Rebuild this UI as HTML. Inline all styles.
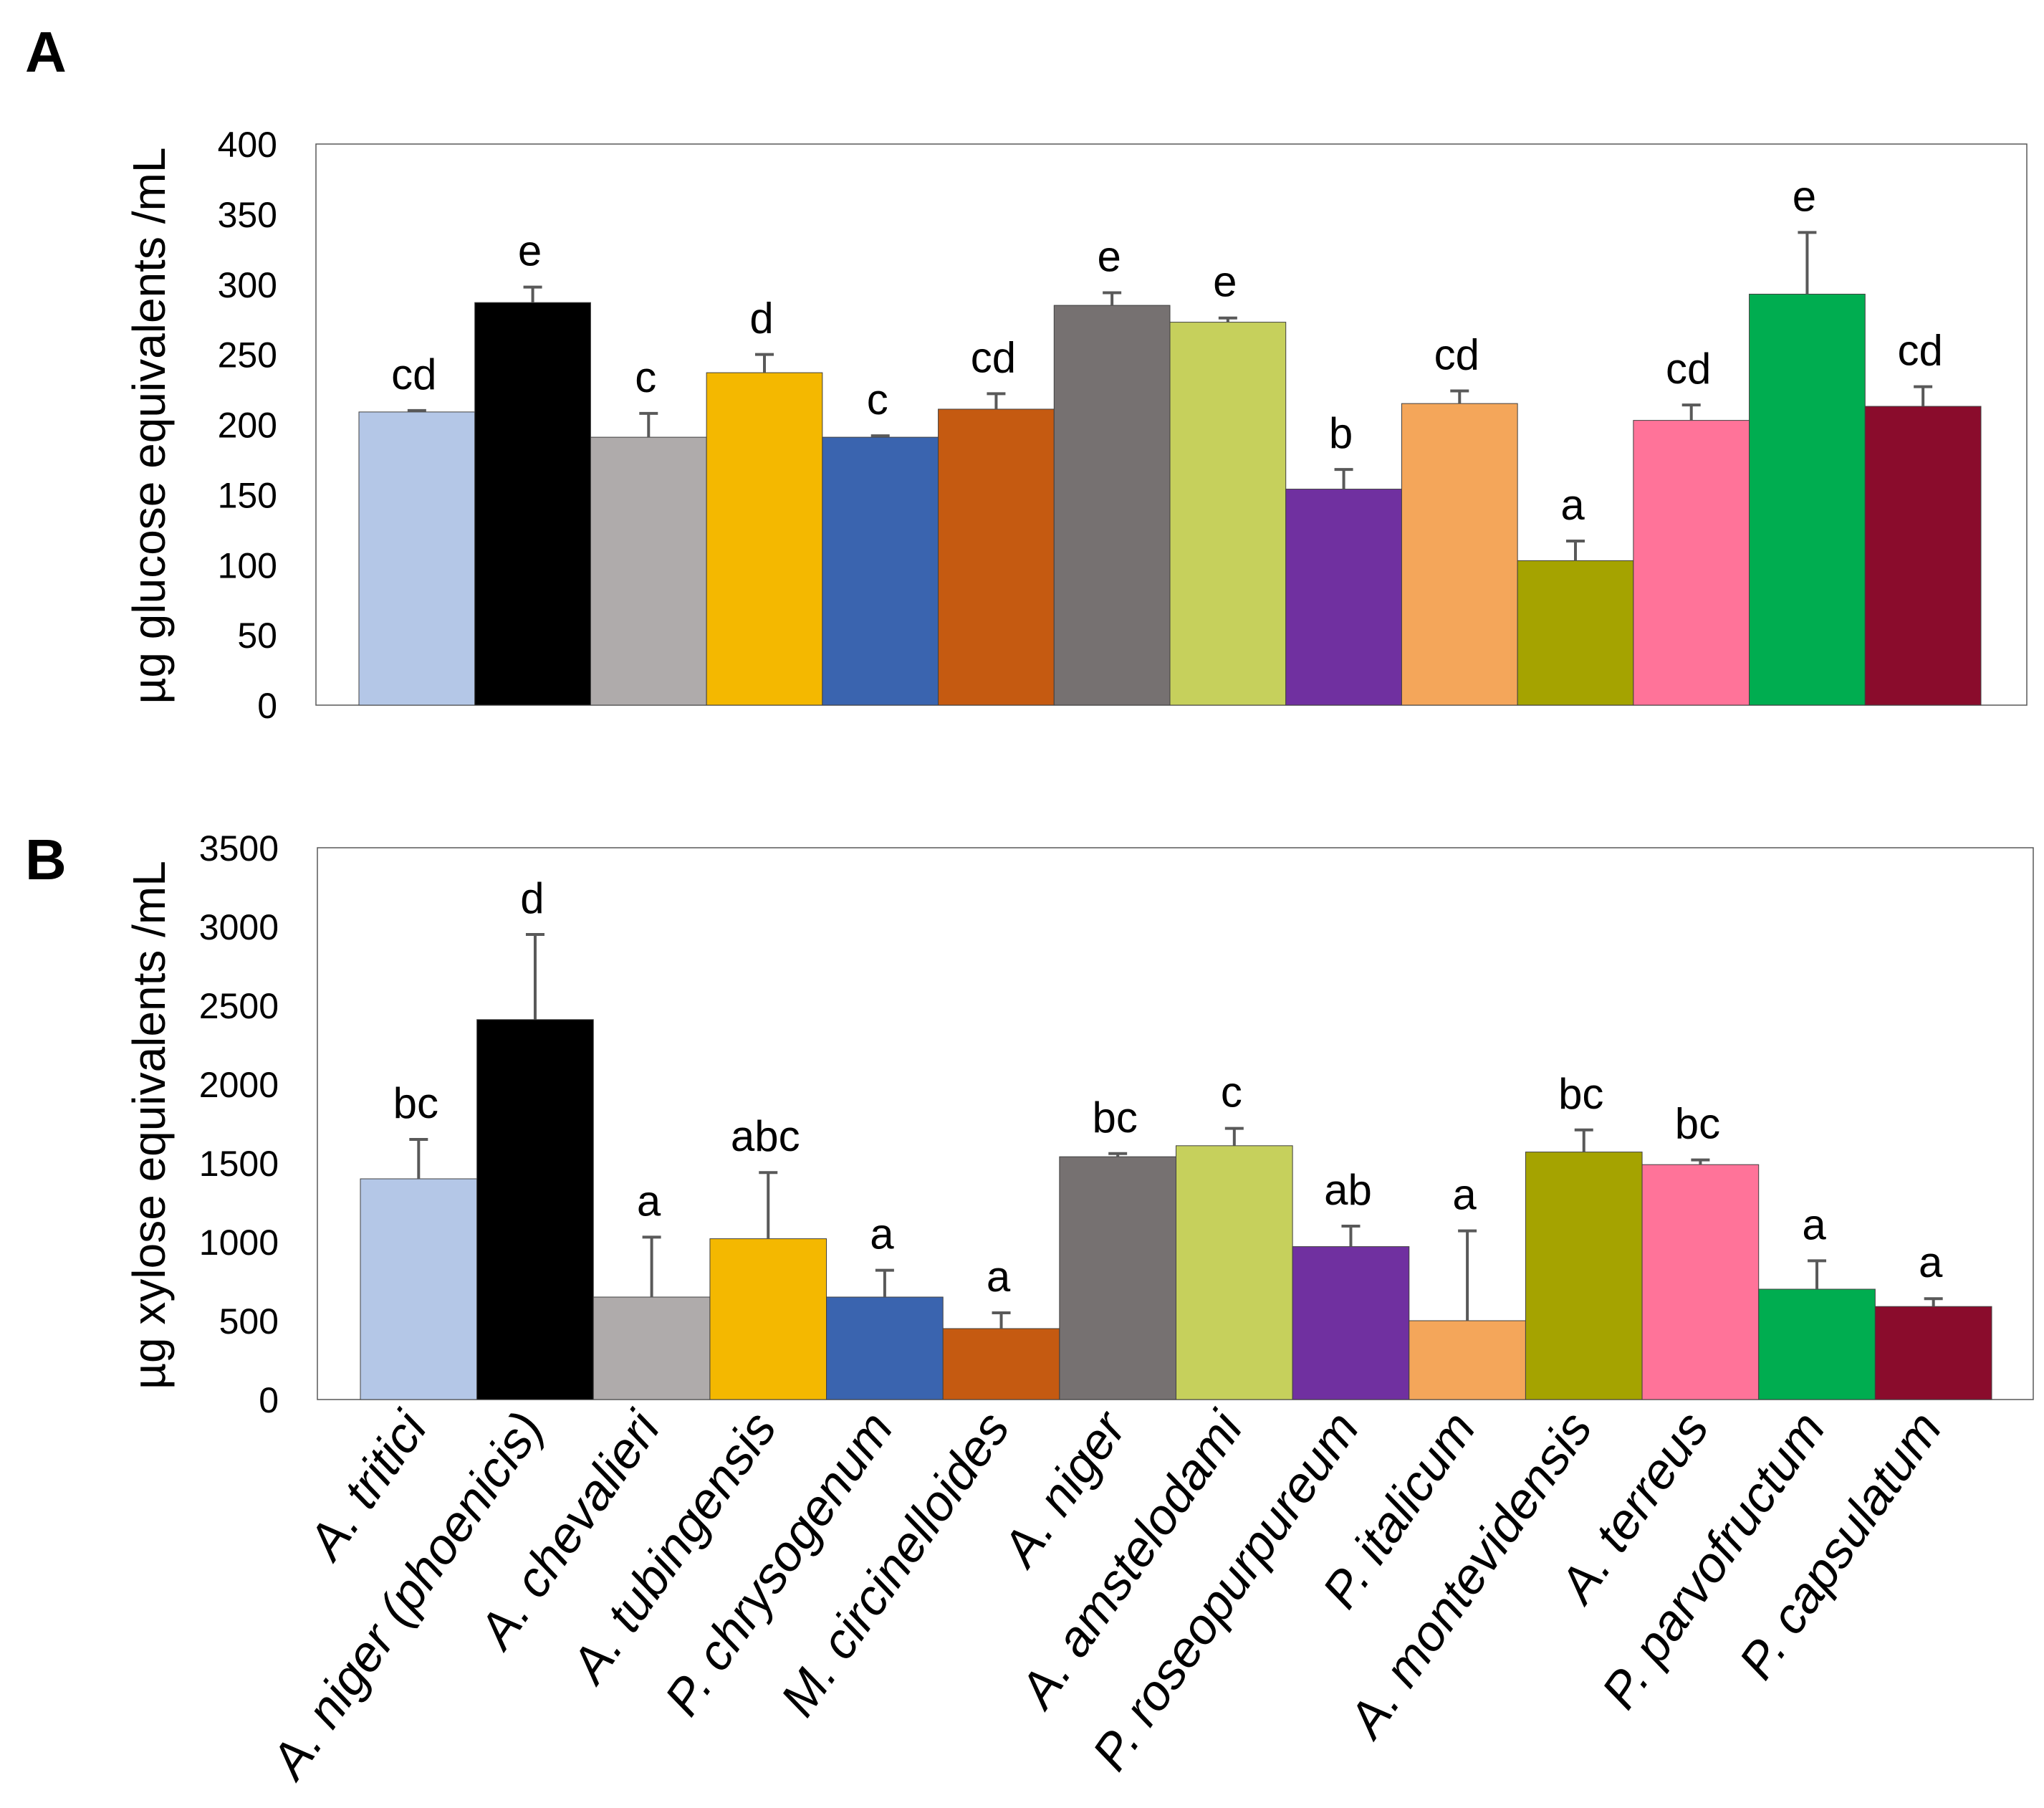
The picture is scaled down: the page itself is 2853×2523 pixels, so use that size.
<!DOCTYPE html>
<html><head><meta charset="utf-8"><style>
html,body{margin:0;padding:0;background:#fff;}
svg{display:block;font-family:"Liberation Sans","DejaVu Sans",sans-serif;}
</style></head><body>
<svg id="chart" width="2853" height="2523" viewBox="0 0 2853 2523" xmlns="http://www.w3.org/2000/svg">
<text x="35" y="100" font-size="80" font-weight="bold">A</text>
<text x="35" y="1227" font-size="80" font-weight="bold">B</text>
<text transform="translate(230,594) rotate(-90)" text-anchor="middle" font-size="64">µg glucose equivalents /mL</text>
<text transform="translate(230,1570) rotate(-90)" text-anchor="middle" font-size="64">µg xylose equivalents /mL</text>
<g id="pa"></g><g id="pb"></g><g id="cats"></g>
</svg>
<script>
const categories=["A. tritici","A. niger (phoenicis)","A. chevalieri","A. tubingensis","P. chrysogenum","M. circinelloides","A. niger","A. amstelodami","P. roseopurpureum","P. italicum","A. montevidensis","A. terreus","P. parvofructum","P. capsulatum"];
const colors=["#B4C7E7","#000000","#AFABAB","#F4B800","#3A64AF","#C55A11","#767171","#C6D05C","#7030A0","#F4A65A","#A5A300","#FF7399","#00AD50","#8A0C2C"];
const glucoseValues=[209,287,191,237,191,211,285,273,154,215,103,203,293,213];
const glucoseErrors=[1,11,17,13,1,11,9,3,14,9,14,11,44,14];
const glucoseLetters=["cd","e","c","d","c","cd","e","e","b","cd","a","cd","e","cd"];
const glucoseTicks=[0,50,100,150,200,250,300,350,400];
const xyloseValues=[1400,2410,650,1020,650,450,1540,1610,970,500,1570,1490,700,590];
const xyloseErrors=[250,540,380,420,170,100,20,110,130,570,140,30,180,50];
const xyloseLetters=["bc","d","a","abc","a","a","bc","c","ab","a","bc","bc","a","a"];
const xyloseTicks=[0,500,1000,1500,2000,2500,3000,3500];
const NS="http://www.w3.org/2000/svg";
function mk(p,t,a){const e=document.createElementNS(NS,t);for(const k in a)e.setAttribute(k,a[k]);p.appendChild(e);return e;}
function panel(g,key,L,R,T,B,x0,x1,max,vals,errs,letters,ticks){
  const y=v=>B-(v/max)*(B-T);
  const bw=(x1-x0)/vals.length;
  const fr=mk(g,'rect',{x:L,y:T,width:R-L,height:B-T,fill:'none',stroke:'#595959','stroke-width':1.5});
  
  
  ticks.forEach(t=>{const tx=mk(g,'text',{x:L-54,y:y(t)+18,'text-anchor':'end','font-size':50});tx.textContent=t;
    
    });
  vals.forEach((v,i)=>{
    const xl=x0+i*bw,cx=xl+bw/2;
    const r=mk(g,'rect',{x:xl,y:y(v),width:bw,height:B-y(v),fill:colors[i],stroke:'#404040','stroke-width':1});
    
    
    const et=y(v+errs[i]);
    const el=mk(g,'path',{d:`M${cx},${y(v)}V${et}M${cx-13},${et}H${cx+13}`,stroke:'#595959','stroke-width':4,fill:'none'});
    
    
    const lt=mk(g,'text',{x:cx-4,y:et-30,'text-anchor':'middle','font-size':60});lt.textContent=letters[i];
    
    
  });
}
panel(document.getElementById('pa'),'glucose',441,2829,201,984,501,2765,400,glucoseValues,glucoseErrors,glucoseLetters,glucoseTicks);
panel(document.getElementById('pb'),'xylose',443,2838,1183,1953,503,2780,3500,xyloseValues,xyloseErrors,xyloseLetters,xyloseTicks);
const cg=document.getElementById('cats');
const bw=(2780-503)/14;
categories.forEach((c,i)=>{
  const cx=503+bw*(i+0.5)+14;
  const t=mk(cg,'text',{transform:`translate(${cx},1992) rotate(-55)`,'text-anchor':'end','font-size':70,'font-style':'italic'});
  t.textContent=c;
  
  
});
</script>
</body></html>
